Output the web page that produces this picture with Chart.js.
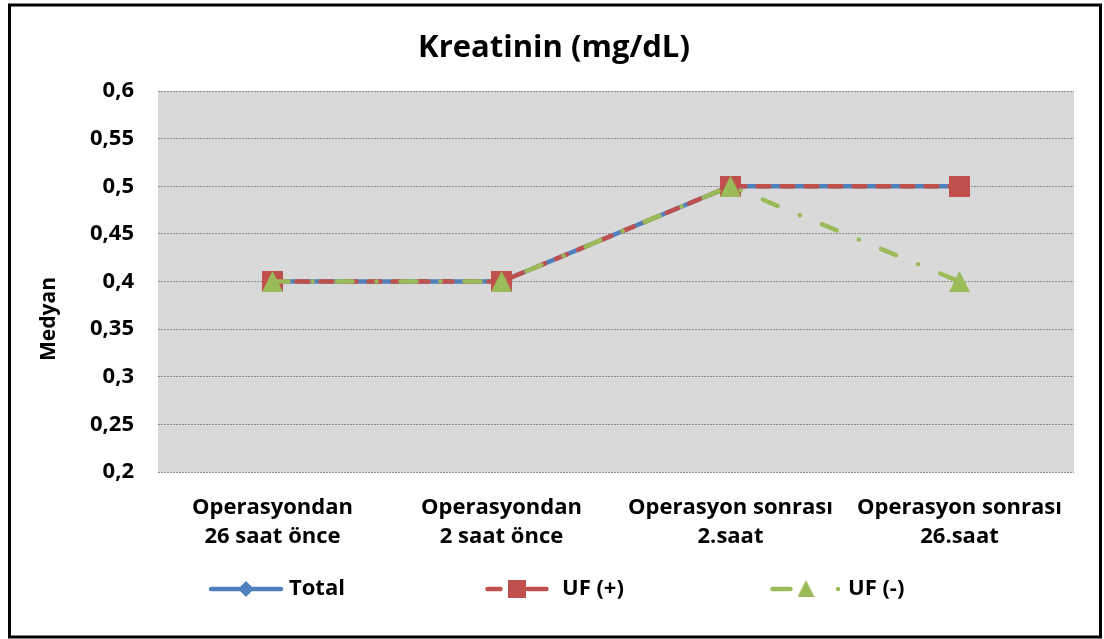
<!DOCTYPE html>
<html><head><meta charset="utf-8">
<script src="https://cdn.jsdelivr.net/npm/chart.js@4.4.1/dist/chart.umd.min.js"></script>
<style>html,body{margin:0;padding:0;background:#fff}#wrap{width:1104px;height:639px}</style>
</head><body><div id="wrap"><canvas id="c" width="1104" height="639"></canvas></div>
<script>
// ---- data ----
const categories = [
  ["Operasyondan", "26 saat önce"],
  ["Operasyondan", "2 saat önce"],
  ["Operasyon sonrası", "2.saat"],
  ["Operasyon sonrası", "26.saat"]
];
const seriesNames = ["Total", "UF (+)", "UF (-)"];
const totalValues = [0.4, 0.4, 0.5, 0.5];
const ufPlusValues = [0.4, 0.4, 0.5, 0.5];
const ufMinusValues = [0.4, 0.4, 0.5, 0.4];
const yTickValues = [0.2, 0.25, 0.3, 0.35, 0.4, 0.45, 0.5, 0.55, 0.6];
const yTickLabels = ["0,2", "0,25", "0,3", "0,35", "0,4", "0,45", "0,5", "0,55", "0,6"];
const chartTitle = "Kreatinin (mg/dL)";
const yAxisTitle = "Medyan";

// ---- styles ----
const FONT = '"Open Sans", Lato, "DejaVu Sans", sans-serif';
const BLUE = '#4F81BD', RED = '#C0504D', GREEN = '#9BBB59';

function makeMarker(kind, size, color) {
  const c = document.createElement('canvas');
  c.width = size; c.height = size;
  const x = c.getContext('2d');
  x.fillStyle = color;
  x.beginPath();
  if (kind === 'square') { x.rect(0, 0, size, size); }
  else if (kind === 'triangle') { x.moveTo(size / 2, 0); x.lineTo(size, size); x.lineTo(0, size); x.closePath(); }
  else if (kind === 'diamond') { x.moveTo(size / 2, 0); x.lineTo(size, size / 2); x.lineTo(size / 2, size); x.lineTo(0, size / 2); x.closePath(); }
  x.fill();
  return c;
}
const sqMarker = makeMarker('square', 21, RED);
const triMarker = makeMarker('triangle', 21, GREEN);
const diaMarker = makeMarker('diamond', 16, BLUE);
const sqLegend = makeMarker('square', 18, RED);
const triLegend = makeMarker('triangle', 17, GREEN);
const diaLegend = makeMarker('diamond', 16, BLUE);

const backgroundPlugin = {
  id: 'bg',
  beforeDraw(chart) {
    const ctx = chart.ctx, a = chart.chartArea;
    ctx.save();
    ctx.fillStyle = '#fff';
    ctx.fillRect(0, 0, chart.width, chart.height);
    ctx.fillStyle = '#D9D9D9';
    ctx.fillRect(a.left, a.top, a.right - a.left, a.bottom - a.top);
    ctx.lineWidth = 3;
    ctx.strokeStyle = '#000';
    ctx.strokeRect(9.5, 5, 1091, 632);
    ctx.restore();
  }
};

const extrasPlugin = {
  id: 'extras',
  afterDraw(chart) {
    const ctx = chart.ctx;
    ctx.save();
    // y axis title
    ctx.translate(49, 319);
    ctx.rotate(-Math.PI / 2);
    ctx.font = 'bold 21px ' + FONT;
    ctx.fillStyle = '#000';
    ctx.textAlign = 'center';
    ctx.textBaseline = 'middle';
    ctx.fillText(yAxisTitle, 0, 0);
    ctx.restore();

    // legend
    const y = 589;
    const ds = chart.data.datasets;
    ctx.save();
    ctx.lineCap = 'round';
    ctx.lineWidth = 4.5;
    // Total
    ctx.strokeStyle = ds[0].borderColor;
    ctx.setLineDash([]);
    ctx.beginPath(); ctx.moveTo(211, y); ctx.lineTo(281, y); ctx.stroke();
    ctx.drawImage(diaLegend, 246 - 8, y - 8);
    // UF (+)
    ctx.strokeStyle = ds[1].borderColor;
    ctx.setLineDash([13, 27, 19, 100]);
    ctx.beginPath(); ctx.moveTo(487.5, y); ctx.lineTo(547, y); ctx.stroke();
    ctx.drawImage(sqLegend, 517 - 9, y - 9);
    // UF (-)
    ctx.strokeStyle = ds[2].borderColor;
    ctx.setLineDash([18, 47.5, 0.01, 100]);
    ctx.beginPath(); ctx.moveTo(772.5, y); ctx.lineTo(839, y); ctx.stroke();
    ctx.drawImage(triLegend, 806 - 8.5, y - 9);
    ctx.setLineDash([]);
    ctx.font = 'bold 22px ' + FONT;
    ctx.fillStyle = '#000';
    ctx.textAlign = 'left';
    ctx.textBaseline = 'middle';
    ctx.fillText(seriesNames[0], 289, y);
    ctx.fillText(seriesNames[1], 562, y);
    ctx.fillText(seriesNames[2], 848, y);
    ctx.restore();
  }
};

new Chart(document.getElementById('c'), {
  type: 'line',
  data: {
    labels: categories,
    datasets: [
      { label: seriesNames[0], data: totalValues, borderColor: BLUE, backgroundColor: BLUE,
        borderWidth: 4.5, pointStyle: diaMarker, order: 3, tension: 0 },
      { label: seriesNames[1], data: ufPlusValues, borderColor: RED, backgroundColor: RED,
        borderWidth: 4.5, borderDash: [12, 12], borderCapStyle: 'round', pointStyle: sqMarker, order: 2, tension: 0 },
      { label: seriesNames[2], data: ufMinusValues, borderColor: GREEN, backgroundColor: GREEN,
        borderWidth: 4.5, borderDash: [16, 24, 0.01, 24], borderCapStyle: 'round', pointStyle: triMarker, order: 1, tension: 0 }
    ]
  },
  options: {
    responsive: false,
    devicePixelRatio: 1,
    animation: false,
    clip: false,
    layout: { padding: { left: 34, right: 30, top: 5, bottom: 67 } },
    plugins: {
      legend: { display: false },
      tooltip: { enabled: false },
      title: {
        display: true, text: chartTitle, color: '#000',
        font: { family: FONT, size: 31, weight: 'bold', lineHeight: 1.2 },
        padding: { top: 24.4, bottom: 24.4 }
      }
    },
    scales: {
      x: {
        type: 'category',
        offset: true,
        grid: { display: false, drawTicks: false },
        border: { display: false },
        ticks: {
          color: '#000', maxRotation: 0, autoSkip: false, padding: 21,
          font: { family: FONT, size: 22, weight: 'bold', lineHeight: 1.32 }
        },
        afterFit(scale) { scale.height = 100; }
      },
      y: {
        min: 0.2, max: 0.6,
        afterBuildTicks(scale) { scale.ticks = yTickValues.map(v => ({ value: v })); },
        grid: { color: '#8C8C8C', lineWidth: 1, drawTicks: false },
        border: { display: false, dash: [2, 1] },
        ticks: {
          color: '#000', padding: 24,
          font: { family: FONT, size: 22, weight: 'bold' },
          callback(v, i) { return yTickLabels[i]; }
        },
        afterFit(scale) { scale.width = 124; }
      }
    }
  },
  plugins: [backgroundPlugin, extrasPlugin]
});
</script>
</body></html>
